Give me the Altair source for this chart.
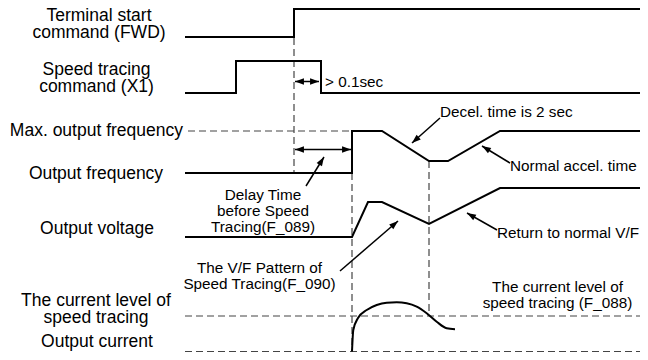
import math
import altair as alt
import pandas as pd

# ---- signal traces (diagram units = pixels from the top-left corner) ----
fwd_x = [185, 294, 294, 642]
fwd_y = [37, 37, 9, 9]
x1_x = [185, 236, 236, 321, 321, 642]
x1_y = [93, 93, 61, 61, 93, 93]
freq_x = [185, 352, 352, 382, 429, 448, 500, 642]
freq_y = [173, 173, 131, 131, 161, 161, 131, 131]
volt_x = [185, 352, 368, 382, 429, 500, 642]
volt_y = [237, 237, 202, 202, 224, 188, 188]
curr_x = [352, 353.3, 358, 366.7, 376.7, 386.7, 396.7, 406.7, 416.7, 426.7, 436.7, 446.7, 455]
curr_y = [351.5, 330, 318, 310, 305, 302.7, 302.3, 303.3, 306.7, 313.3, 321.7, 328.3, 329.3]

# ---- dashed guide lines ----
dash_x = [294, 188, 352, 429, 185, 185]
dash_y = [38, 131, 173, 161, 316, 351.5]
dash_x2 = [294, 352, 352, 429, 646, 646]
dash_y2 = [173, 131, 351.5, 312, 316, 351.5]

# ---- arrows: tail -> tip, both-headed flag ----
arr_x0 = [295, 295, 306, 440, 510, 497, 340]
arr_y0 = [81.5, 149.5, 186, 118, 163, 230, 271]
arr_x1 = [319, 351, 324, 412, 482, 467, 398]
arr_y1 = [81.5, 149.5, 157, 143, 146, 213, 221]
arr_both = [True, True, False, False, False, False, False]

# ---- left labels (centered, multi-line) ----
lab_text = ["Terminal start\ncommand (FWD)", "Speed tracing\ncommand  (X1)",
            "Output frequency", "Output voltage",
            "The current level of\nspeed tracing", "Output current"]
lab_x = [99, 96.5, 96, 97, 96, 97]
lab_y = [20.5, 74.5, 179, 234, 306, 347]

max_text = ["Max. output frequency"]
max_x = [183]
max_y = [136]

# ---- annotations ----
ann_l_text = ["> 0.1sec", "Decel. time is 2 sec", "Normal accel. time", "Return to normal V/F"]
ann_l_x = [325, 440, 510, 497]
ann_l_y = [87, 117, 171, 238]

ann_c_text = ["Delay Time\nbefore Speed\nTracing(F_089)", "The V/F Pattern of\nSpeed Tracing(F_090)",
              "The current level of\nspeed tracing (F_088)"]
ann_c_x = [263, 259.5, 557.5]
ann_c_y = [200, 272.5, 292]

FONT = "Liberation Sans"

xs = alt.Scale(domain=[8, 640], nice=False, zero=False)
ys = alt.Scale(domain=[8, 360], nice=False, zero=False, reverse=True)


def X(f="x"):
    return alt.X(f"{f}:Q", scale=xs, axis=None)


def Y(f="y"):
    return alt.Y(f"{f}:Q", scale=ys, axis=None)


rows = []
for name, xv, yv in [("fwd", fwd_x, fwd_y), ("x1", x1_x, x1_y), ("freq", freq_x, freq_y),
                     ("volt", volt_x, volt_y)]:
    for i, (a, b) in enumerate(zip(xv, yv)):
        rows.append({"series": name, "x": a, "y": b, "o": i})
sig_df = pd.DataFrame(rows)
curr_df = pd.DataFrame({"x": curr_x, "y": curr_y, "o": range(len(curr_x))})

signals = alt.Chart(sig_df).mark_line(color="black", strokeWidth=2, strokeJoin="miter").encode(
    x=X(), y=Y(), detail="series:N", order="o:Q")
current = alt.Chart(curr_df).mark_line(color="black", strokeWidth=2, interpolate="monotone").encode(
    x=X(), y=Y(), order="o:Q")

dash_df = pd.DataFrame({"x": dash_x, "y": dash_y, "x2": dash_x2, "y2": dash_y2})
dashes = alt.Chart(dash_df).mark_rule(color="#444444", strokeWidth=1.2, strokeDash=[7, 4]).encode(
    x=X(), y=Y(), x2="x2:Q", y2="y2:Q")

shaft_df = pd.DataFrame({"x": arr_x0, "y": arr_y0, "x2": arr_x1, "y2": arr_y1})
shafts = alt.Chart(shaft_df).mark_rule(color="black", strokeWidth=1.5).encode(
    x=X(), y=Y(), x2="x2:Q", y2="y2:Q")

head_rows = []
for x0, y0, x1, y1, both in zip(arr_x0, arr_y0, arr_x1, arr_y1, arr_both):
    ang = math.degrees(math.atan2(x1 - x0, -(y1 - y0))) % 360
    head_rows.append({"x": x1, "y": y1, "a": ang})
    if both:
        head_rows.append({"x": x0, "y": y0, "a": (ang + 180) % 360})
head_df = pd.DataFrame(head_rows)
heads = alt.Chart(head_df).mark_point(
    shape="M0,0L-0.6,1.7L0.6,1.7Z", filled=True, color="black", opacity=1, size=110,
    strokeWidth=0).encode(x=X(), y=Y(), angle=alt.Angle("a:Q", scale=None))

lab_df = pd.DataFrame({"x": lab_x, "y": lab_y, "t": lab_text})
labels = alt.Chart(lab_df).mark_text(font=FONT, fontSize=17.5, align="center", baseline="alphabetic",
                                     lineBreak="\n", lineHeight=17.3, color="black").encode(
    x=X(), y=Y(), text="t:N")
max_df = pd.DataFrame({"x": max_x, "y": max_y, "t": max_text})
maxlab = alt.Chart(max_df).mark_text(font=FONT, fontSize=17.5, align="right", baseline="alphabetic",
                                     color="black").encode(x=X(), y=Y(), text="t:N")

annl_df = pd.DataFrame({"x": ann_l_x, "y": ann_l_y, "t": ann_l_text})
annl = alt.Chart(annl_df).mark_text(font=FONT, fontSize=15.3, align="left", baseline="alphabetic",
                                    color="black").encode(x=X(), y=Y(), text="t:N")
annc_df = pd.DataFrame({"x": ann_c_x, "y": ann_c_y, "t": ann_c_text})
annc = alt.Chart(annc_df).mark_text(font=FONT, fontSize=15.3, align="center", baseline="alphabetic",
                                    lineBreak="\n", lineHeight=16, color="black").encode(
    x=X(), y=Y(), text="t:N")

chart = alt.layer(dashes, signals, current, shafts, heads, labels, maxlab, annl, annc).properties(
    width=632, height=352, padding=0, autosize="none", background="white"
).configure_view(stroke=None)

chart.save("out.html", embed_options={"renderer": "svg", "actions": False})
